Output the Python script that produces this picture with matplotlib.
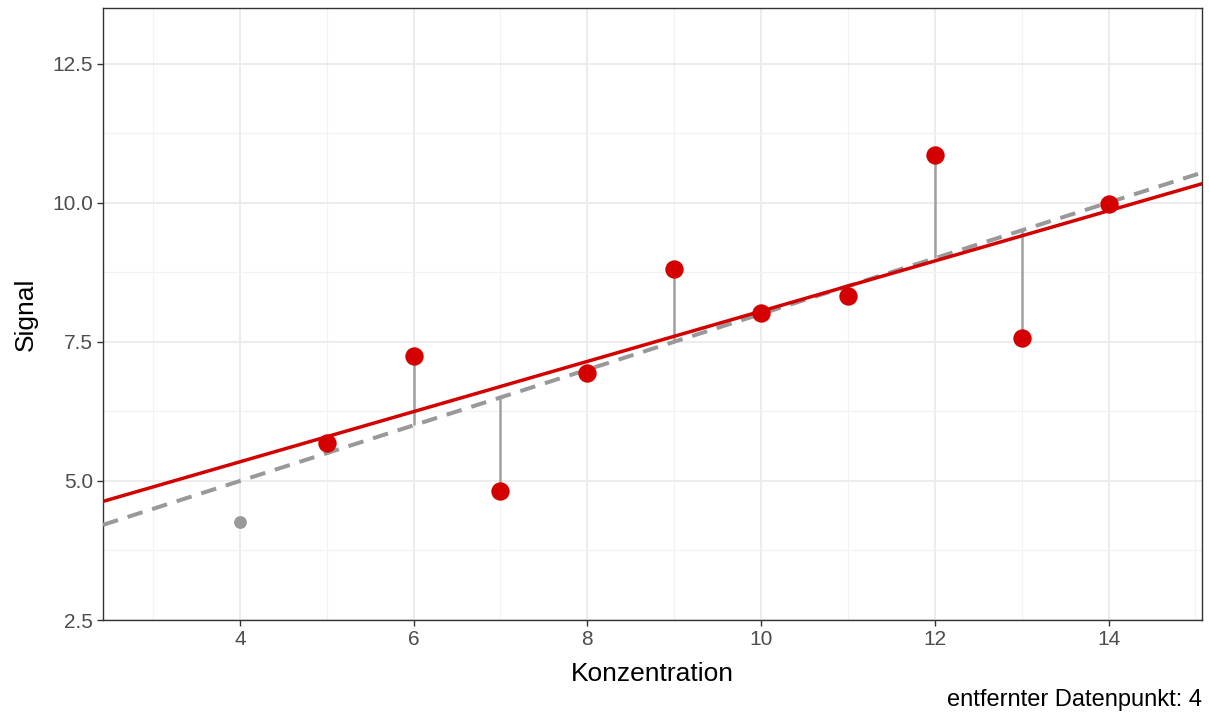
import numpy as np
import matplotlib
matplotlib.use('Agg')
import matplotlib.pyplot as plt

plt.rcParams['font.family'] = ['Liberation Sans', 'DejaVu Sans']

# data
konz = np.array([4, 5, 6, 7, 8, 9, 10, 11, 12, 13, 14])
signal = np.array([4.26, 5.68, 7.25, 4.82, 6.94, 8.81, 8.02, 8.33, 10.85, 7.57, 9.98])
removed = 4

keep = konz != removed

# fits: all points (dashed) and without the removed one (red)
b_all = np.polyfit(konz, signal, 1)
b_red = np.polyfit(konz[keep], signal[keep], 1)

fig = plt.figure(figsize=(12.09, 7.17), dpi=100)
ax = fig.add_axes([103 / 1209, 1 - 620 / 717, 1099 / 1209, 612 / 717])

xlim = (2.425, 15.075)
ylim = (2.5, 13.5)
xx = np.array(xlim)

# residual segments to the full fit
fitted = np.polyval(b_all, konz[keep])
ax.vlines(konz[keep], signal[keep], fitted, color='#a0a0a0', lw=1.8, zorder=2)

ax.plot(xx, np.polyval(b_all, xx), color='#999999', lw=2.9, ls=(0, (3.9, 2.5)), zorder=3)
ax.plot(xx, np.polyval(b_red, xx), color='#d40000', lw=2.5, zorder=4)

ax.scatter(konz[~keep], signal[~keep], s=85, color='#999999', zorder=5, linewidths=0)
ax.scatter(konz[keep], signal[keep], s=175, color='#d40000', zorder=6, linewidths=0)

ax.set_xlim(*xlim)
ax.set_ylim(*ylim)
ax.set_xticks([4, 6, 8, 10, 12, 14])
ax.set_xticks([3, 5, 7, 9, 11, 13, 15], minor=True)
ax.set_yticks([2.5, 5.0, 7.5, 10.0, 12.5])
ax.set_yticks([3.75, 6.25, 8.75, 11.25], minor=True)
ax.set_yticklabels(['2.5', '5.0', '7.5', '10.0', '12.5'])
ax.grid(True, which='major', color='#ebebeb', lw=1.3, zorder=0)
ax.grid(True, which='minor', color='#f2f2f2', lw=0.9, zorder=0)
ax.set_axisbelow(True)
ax.tick_params(which='major', length=4.3, width=1, color='#333333', labelcolor='#4d4d4d',
               labelsize=15, pad=3)
ax.tick_params(which='minor', length=0)
for s in ax.spines.values():
    s.set_color('#333333')
    s.set_linewidth(1)

ax.set_xlabel('Konzentration', fontsize=19, labelpad=9)
ax.set_ylabel('Signal', fontsize=19, labelpad=10)

fig.text(1202 / 1209, 1 - 706 / 717, 'entfernter Datenpunkt: ' + str(removed),
         ha='right', va='baseline', fontsize=17)

fig.savefig('out.png', dpi=100)
